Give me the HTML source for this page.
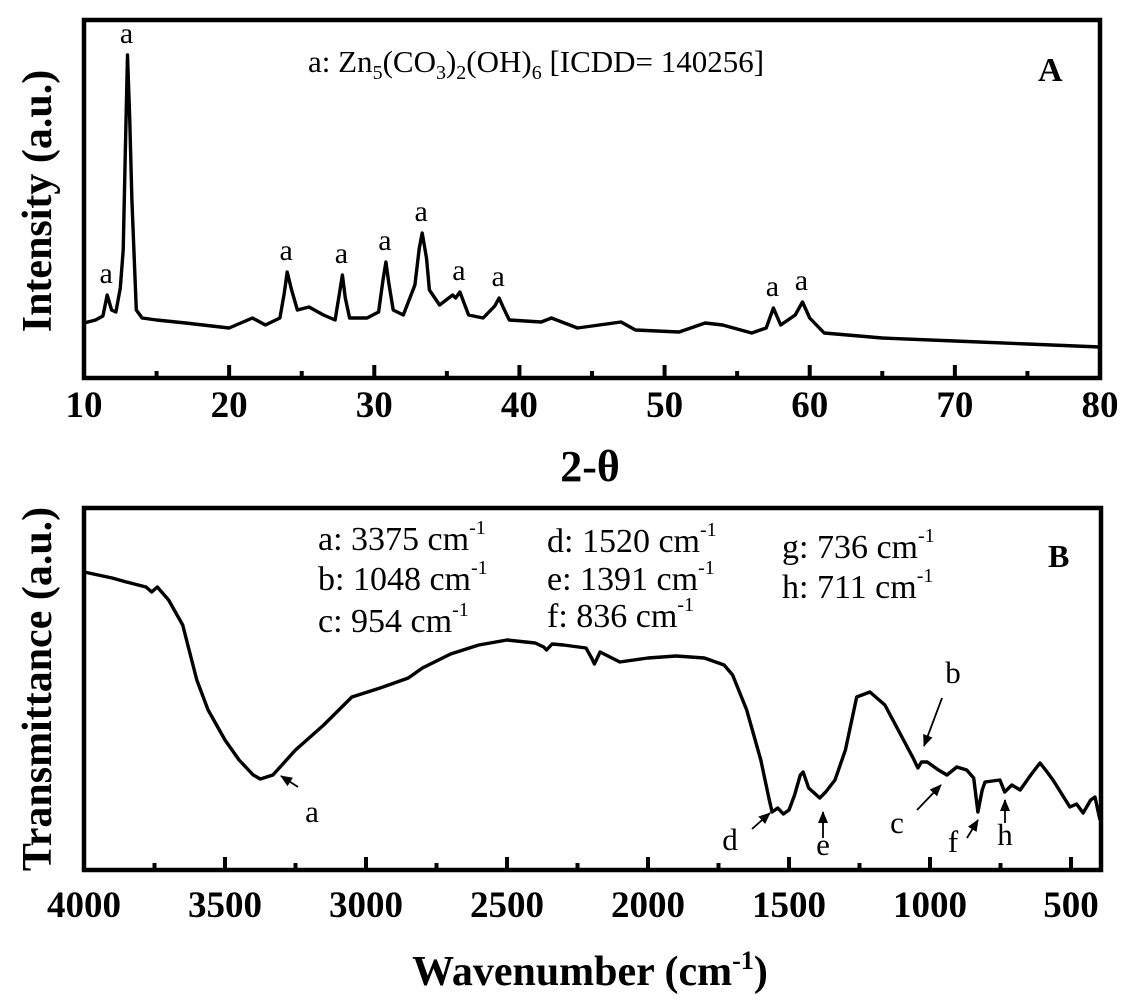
<!DOCTYPE html>
<html><head><meta charset="utf-8"><style>
html,body{margin:0;padding:0;background:#fff;}
svg{display:block;font-family:"Liberation Serif",serif;}
</style></head><body>
<svg id="fig" width="1135" height="1000" viewBox="0 0 1135 1000" xmlns="http://www.w3.org/2000/svg">
<g id="gA"></g>
<g id="gB"></g>
</svg>
<script>
// XRD data (2-theta, intensity a.u.)
const xrdTheta = [10,10.8,11.3,11.6,11.9,12.2,12.5,12.7,12.85,13.0,13.15,13.3,13.6,14,15,17,20,21.6,22.5,23.5,23.8,24,24.3,24.7,25.5,26.5,27.3,27.6,27.8,28.0,28.3,29.5,30.3,30.6,30.8,31.0,31.3,32,32.8,33.1,33.3,33.6,33.8,34.5,35.4,35.6,35.9,36.5,37.5,38.3,38.6,38.9,39.3,41.5,42.2,44,47,48,51,52.8,54,56,57,57.5,58,59,59.5,60,61,65,70,75,80];
const xrdInt = [55,58,62,83,68,66,90,128,230,323,260,178,68,60,58,55,50,60,53,60,85,106,88,68,71,63,58,85,103,80,60,60,66,98,116,95,68,63,93,130,145,120,88,73,83,80,86,63,60,72,80,70,58,56,60,50,56,48,46,55,53,45,50,70,53,63,76,60,45,40,37,34,31];
const xrdTicks = [10,20,30,40,50,60,70,80];
const xrdMinor = [15,25,35,45,55,65,75];
const xrdPeaks = [11.6,13.0,24.0,27.8,30.8,33.3,35.9,38.6,57.5,59.5];
const xrdPeakInt = [83,323,106,103,116,145,86,80,70,76];
// FTIR data (wavenumber, transmittance a.u.)
const irWave = [4000,3900,3850,3780,3760,3740,3700,3650,3600,3560,3500,3450,3400,3375,3330,3250,3150,3050,2950,2850,2800,2700,2600,2500,2400,2370,2360,2340,2300,2220,2200,2190,2170,2100,2000,1900,1800,1730,1700,1650,1600,1570,1560,1540,1520,1500,1480,1460,1450,1430,1391,1370,1337,1300,1260,1213,1160,1107,1060,1043,1030,1010,970,940,905,870,845,830,815,805,752,735,710,680,640,610,590,564,504,480,457,430,415,405,397];
const irT = [298,292,288,283,278,283,270,245,190,160,130,110,95,91,95,120,145,173,182,192,202,216,225,230,227,223,220,226,225,222,212,206,218,208,212,214,212,205,195,160,110,70,58,62,56,60,75,95,98,82,72,78,90,120,173,178,165,137,112,102,108,108,100,95,103,100,92,58,80,88,90,78,85,80,96,107,100,90,63,66,57,70,73,60,50];
const irTicks = [4000,3500,3000,2500,2000,1500,1000,500];
const irMinor = [3750,3250,2750,2250,1750,1250,750];

const NS="http://www.w3.org/2000/svg";
function mk(parent,tag,attrs,text){const e=document.createElementNS(NS,tag);for(const k in attrs)e.setAttribute(k,attrs[k]);if(text!==undefined)e.textContent=text;parent.appendChild(e);return e;}

// ---- Panel A ----
const A={l:84,r:1100,t:20,b:378};
const ax=v=>A.l+(v-10)/(80-10)*(A.r-A.l);
const ay=v=>A.b-v;
const gA=document.getElementById('gA');
let d='';xrdTheta.forEach((t,i)=>{d+=(i?'L':'M')+ax(t).toFixed(1)+','+ay(xrdInt[i]).toFixed(1);});
let p=mk(gA,'path',{d:d,fill:'none',stroke:'#000','stroke-width':3.4,'stroke-linejoin':'round'});


let fr=mk(gA,'rect',{x:A.l,y:A.t,width:A.r-A.l,height:A.b-A.t,fill:'none',stroke:'#000','stroke-width':4.5});


xrdTicks.forEach(t=>{
  if(t>10&&t<80){let tk=mk(gA,'line',{x1:ax(t),x2:ax(t),y1:A.b,y2:A.b-13,stroke:'#000','stroke-width':4});
  
  }
  let lb=mk(gA,'text',{x:ax(t),y:417,'text-anchor':'middle','font-size':37,'font-weight':'bold'},String(t));
  
  
});
xrdMinor.forEach(t=>{let tk=mk(gA,'line',{x1:ax(t),x2:ax(t),y1:A.b,y2:A.b-7,stroke:'#000','stroke-width':4});
  
  });
xrdPeaks.forEach((t,i)=>{let lb=mk(gA,'text',{x:ax(t)-1,y:ay(xrdPeakInt[i])-12,'text-anchor':'middle','font-size':30},'a');
  
  });
let leg=mk(gA,'text',{x:308,y:72,'font-size':31});


leg.innerHTML='a: Zn<tspan font-size="20" dy="7">5</tspan><tspan dy="-7">(CO</tspan><tspan font-size="20" dy="7">3</tspan><tspan dy="-7">)</tspan><tspan font-size="20" dy="7">2</tspan><tspan dy="-7">(OH)</tspan><tspan font-size="20" dy="7">6</tspan><tspan dy="-7"> [ICDD= 140256]</tspan>';
let pa=mk(gA,'text',{x:1038,y:81,'font-size':34,'font-weight':'bold'},'A');


let xt=mk(gA,'text',{x:590,y:481,'text-anchor':'middle','font-size':44,'font-weight':'bold'},'2-θ');


let yt=mk(gA,'text',{transform:'translate(51,201) rotate(-90)','text-anchor':'middle','font-size':42,'font-weight':'bold'},'Intensity (a.u.)');



// ---- Panel B ----
const B={l:84,r:1101,t:508,b:870};
const bx=v=>B.l+(4000-v)/500*141;
const by=v=>B.b-v;
const gB=document.getElementById('gB');
d='';irWave.forEach((w,i)=>{d+=(i?'L':'M')+bx(w).toFixed(1)+','+by(irT[i]).toFixed(1);});
p=mk(gB,'path',{d:d,fill:'none',stroke:'#000','stroke-width':3.4,'stroke-linejoin':'round'});


fr=mk(gB,'rect',{x:B.l,y:B.t,width:B.r-B.l,height:B.b-B.t,fill:'none',stroke:'#000','stroke-width':4.5});


irTicks.forEach(t=>{
  if(t<4000){let tk=mk(gB,'line',{x1:bx(t),x2:bx(t),y1:B.b,y2:B.b-13,stroke:'#000','stroke-width':4});
  
  }
  let lb=mk(gB,'text',{x:bx(t),y:917,'text-anchor':'middle','font-size':37,'font-weight':'bold'},String(t));
  
  
});
irMinor.forEach(t=>{let tk=mk(gB,'line',{x1:bx(t),x2:bx(t),y1:B.b,y2:B.b-7,stroke:'#000','stroke-width':4});
  
  });
const legTxt=[['a: 3375 cm',318,550],['b: 1048 cm',318,590],['c: 954 cm',318,632],['d: 1520 cm',547,552],['e: 1391 cm',547,590],['f: 836 cm',547,627],['g: 736 cm',782,558],['h: 711 cm',782,598]];
legTxt.forEach(l=>{let t=mk(gB,'text',{x:l[1],y:l[2],'font-size':34});
  
  
  t.innerHTML=l[0]+'<tspan font-size="20" dy="-16">-1</tspan>';});
let pb=mk(gB,'text',{x:1048,y:567,'font-size':32,'font-weight':'bold'},'B');


mk(gB,'defs',{}).innerHTML='<marker id="ah2" markerWidth="12" markerHeight="10" refX="11" refY="5" orient="auto" markerUnits="userSpaceOnUse"><path d="M0,0L12,5L0,10z" fill="#000"/></marker>';
const arrows=[['a',298,787,281,776,312,822],['b',942,698,924,746,953,683],['c',917,810,941,785,897,833],['d',752,829,770,813,730,850],['e',823,838,823,812,823,855],['f',967,838,978,820,953,852],['h',1005,823,1005,800,1005,845]];
arrows.forEach(a=>{let l=mk(gB,'line',{x1:a[1],y1:a[2],x2:a[3],y2:a[4],stroke:'#000','stroke-width':1.8,'marker-end':'url(#ah2)'});
  
  
  let t=mk(gB,'text',{x:a[5],y:a[6],'text-anchor':'middle','font-size':31},a[0]);
  
  });
xt=mk(gB,'text',{x:590,y:985,'text-anchor':'middle','font-size':42,'font-weight':'bold'});


xt.innerHTML='Wavenumber (cm<tspan font-size="26" dy="-16">-1</tspan><tspan dy="16">)</tspan>';
yt=mk(gB,'text',{transform:'translate(51,689) rotate(-90)','text-anchor':'middle','font-size':42,'font-weight':'bold'},'Transmittance (a.u.)');


</script>
</body></html>
